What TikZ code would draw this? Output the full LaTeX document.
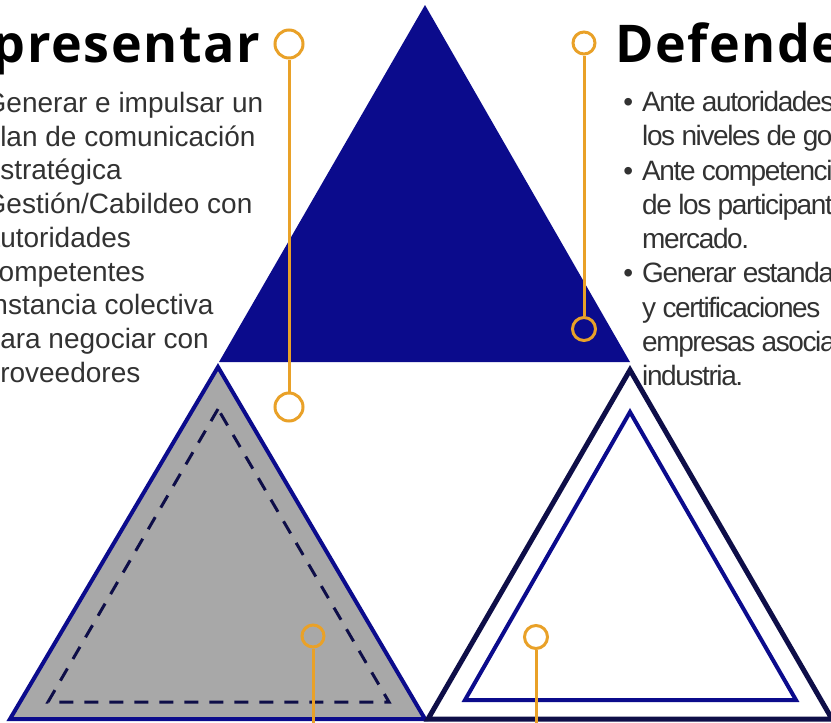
\documentclass[tikz,border=0pt]{standalone}
\usepackage{fontspec}
\setmainfont{Liberation Sans}
\newfontfamily\headfont[LetterSpace=3]{Open Sans}
\newfontfamily\tightfont[LetterSpace=-5]{Liberation Sans}

\definecolor{navy}{RGB}{11,11,140}
\definecolor{darknavy}{RGB}{14,14,72}
\definecolor{shadegray}{RGB}{168,168,168}
\definecolor{pinorange}{RGB}{233,161,40}
\definecolor{bodygray}{RGB}{50,50,50}

\tikzset{
	pinring/.style={circle, draw=pinorange, line width=3pt, inner sep=0pt},
	pinline/.style={draw=pinorange, line width=3pt},
	heading/.style={font=\headfont\bfseries\fontsize{52}{60}\selectfont, inner sep=0pt},
	listtext/.style={text=bodygray, inner sep=0pt, align=left, anchor=north west}
}

\begin{document}
\begin{tikzpicture}[x=1pt, y=-1pt]
		\useasboundingbox (0,0) rectangle (831,723);
		% triangles
		\fill[navy] (425,5) -- (219,362) -- (630,362) -- cycle;
		\draw[navy, fill=shadegray, line width=4pt] (218,367) -- (10,719) -- (425,719) -- cycle;
		\draw[darknavy, line width=3pt, dash pattern=on 14pt off 11pt] (218,409) -- (48,702) -- (389,702) -- cycle;
		\draw[darknavy, line width=5pt] (630,370) -- (428,719) -- (832,719) -- cycle;
		\draw[navy, line width=4pt] (630,412) -- (465,700) -- (796,700) -- cycle;
		% titles
		\node[heading, anchor=base east] (reptitle) at (260,62) {Representar};
		\node[heading, anchor=base west] (deftitle) at (615,62) {Defender};
		% lists
		\node[listtext, font=\fontsize{28}{33.75}\selectfont] (replist) at (-15.5,92) {%
			Generar e impulsar un\\
			plan de comunicación\\
			estratégica\\
			Gestión/Cabildeo con\\
			autoridades\\
			competentes\\
			Instancia colectiva\\
			para negociar con\\
			proveedores};
		\node[listtext, font=\tightfont\fontsize{28}{34.3}\selectfont] (deflist) at (642,91) {%
			\llap{\textbullet\hspace{9pt}}Ante autoridades\\
			los niveles de gobierno\\
			\llap{\textbullet\hspace{9pt}}Ante competencia\\
			de los participantes\\
			mercado.\\
			\llap{\textbullet\hspace{9pt}}Generar estandares\\
			y certificaciones\\
			empresas asociadas\\
			industria.};
		% pins
		\node[pinring, minimum size=28pt] (pinAtop) at (289,44) {};
		\node[pinring, minimum size=28pt] (pinAbot) at (289,407) {};
		\node[pinring, minimum size=22pt] (pinBtop) at (584,43) {};
		\node[pinring, minimum size=23pt] (pinBbot) at (584,329) {};
		\node[pinring, minimum size=22pt] (pinC) at (313,636) {};
		\node[pinring, minimum size=23pt] (pinD) at (536,637) {};
		\coordinate (pinCend) at (313,730);
		\coordinate (pinDend) at (536,730);
		\draw[pinline] (pinAtop) -- (pinAbot);
		\draw[pinline] (pinBtop) -- (pinBbot);
		\draw[pinline] (pinC) -- (pinCend);
		\draw[pinline] (pinD) -- (pinDend);
\end{tikzpicture}
\end{document}
